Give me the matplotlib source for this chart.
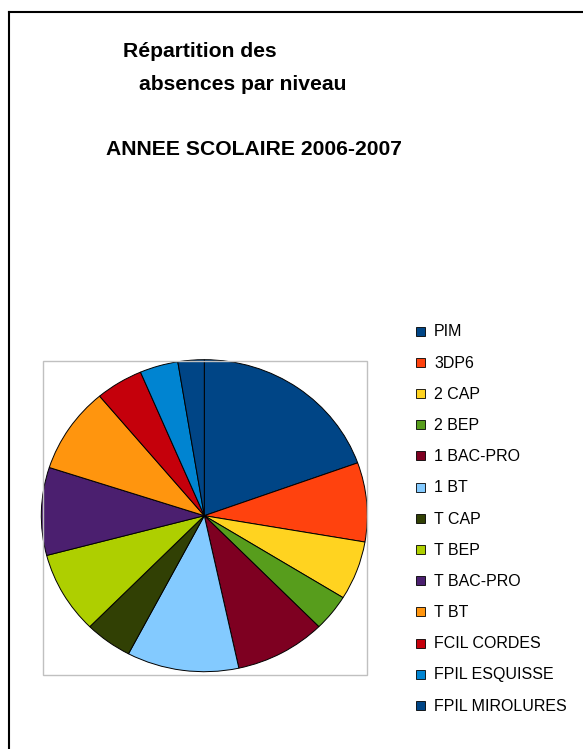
import matplotlib
matplotlib.use("Agg")
import matplotlib.pyplot as plt
from matplotlib.patches import Rectangle
from matplotlib.lines import Line2D

plt.rcParams['font.family'] = ['Liberation Sans', 'DejaVu Sans']

categories = ["PIM", "3DP6", "2 CAP", "2 BEP", "1 BAC-PRO", "1 BT", "T CAP",
              "T BEP", "T BAC-PRO", "T BT", "FCIL CORDES", "FPIL ESQUISSE",
              "FPIL MIROLURES"]
values = [19.5, 8.2, 6.1, 3.8, 9.0, 11.1, 4.7, 8.5, 9.1, 8.9, 4.7, 3.8, 2.6]
colors = ["#004586", "#ff420e", "#ffd320", "#579d1c", "#7e0021", "#83caff",
          "#314004", "#aecf00", "#4b1f6f", "#ff950e", "#c5000b", "#0084d1",
          "#004586"]

W, H = 583, 749
fig = plt.figure(figsize=(W / 100, H / 100), dpi=100)

def fx(px):
    return px / W

def fy(py):
    return 1 - py / H

# outer frame (left and top edges)
fig.add_artist(Line2D([fx(9), fx(9)], [fy(12), fy(749)], color="black", lw=1.5))
fig.add_artist(Line2D([fx(9), fx(583)], [fy(12), fy(12)], color="black", lw=1.5))

# pie plot area box
fig.add_artist(Rectangle((fx(42.7), fy(675)), fx(367.3) - fx(42.7), fy(360.7) - fy(675),
                         transform=fig.transFigure, fill=False, edgecolor="#c0c0c0", lw=1))

cx, cy, rx, ry = 204.3, 515.7, 163, 156
ax = fig.add_axes([fx(cx - rx), fy(cy + ry), 2 * rx / W, 2 * ry / H])
wedges, _ = ax.pie(values, colors=colors, startangle=90, counterclock=False,
                   wedgeprops=dict(edgecolor="black", linewidth=0.7))
ax.set_aspect('auto')
ax.set_xlim(-1, 1)
ax.set_ylim(-1, 1)
ax.axis('off')

# titles
tkw = dict(fontsize=15.2, fontweight='bold', va='baseline')
fig.text(fx(123), fy(56.7), "Répartition des", **tkw)
fig.text(fx(139), fy(90), "absences par niveau", **tkw)
fig.text(fx(106), fy(155), "ANNEE SCOLAIRE 2006-2007", **tkw)

# legend
for i, (lab, col) in enumerate(zip(categories, colors)):
    yc = 331 + i * 31.2
    fig.add_artist(Rectangle((fx(416), fy(yc + 4.5)), fx(425) - fx(416), 9 / H,
                             transform=fig.transFigure, facecolor=col,
                             edgecolor="black", lw=0.6))
    fig.text(fx(434), fy(yc + 5.3), lab, fontsize=11.5, va='baseline')

fig.savefig("out.png", dpi=100)
